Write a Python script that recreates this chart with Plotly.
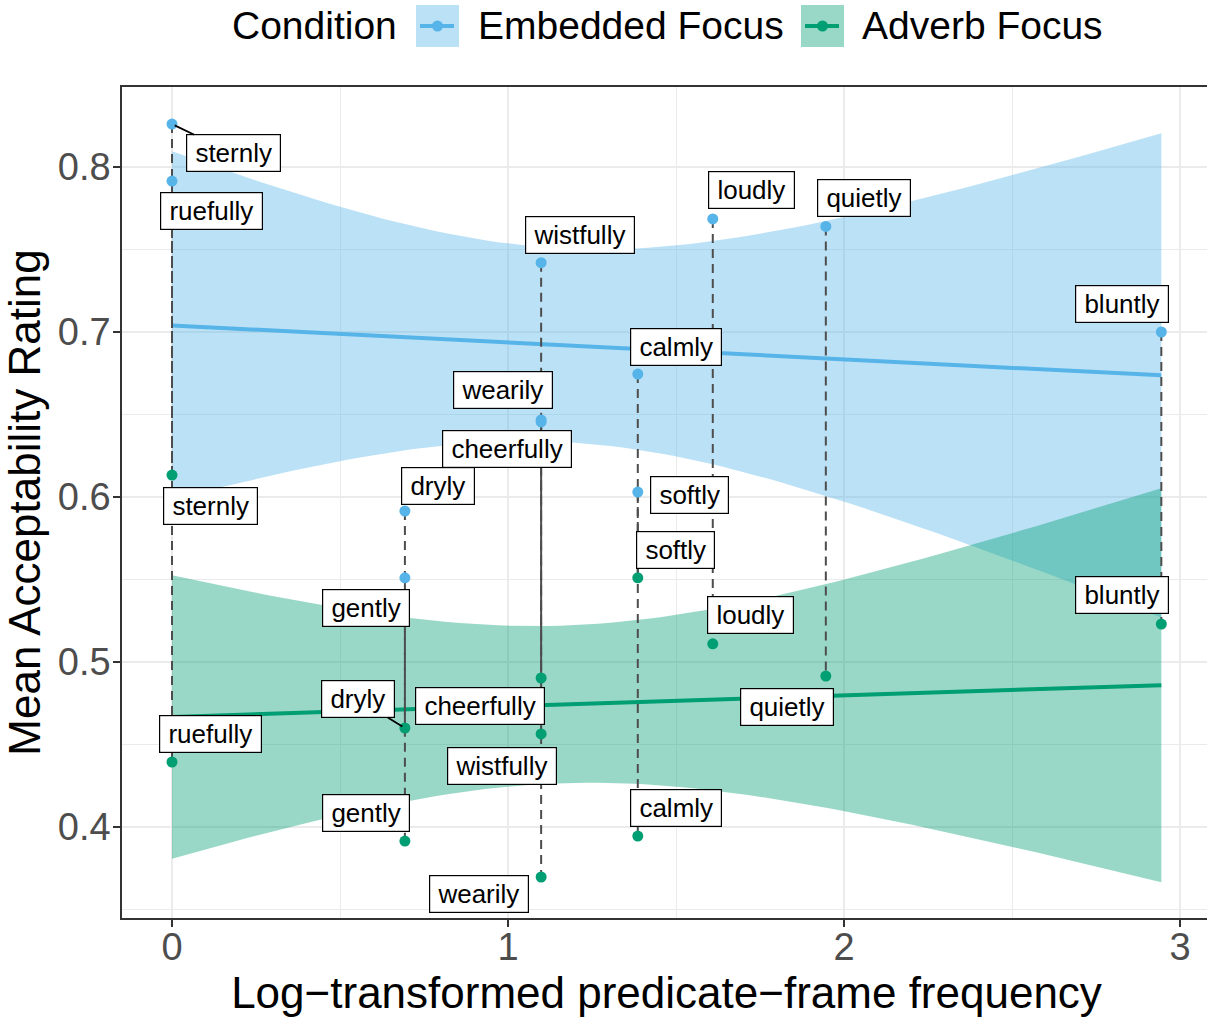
import numpy as np
import plotly.graph_objects as go

# ---- data ----
adverbs = ["sternly", "ruefully", "dryly", "gently", "wistfully", "wearily",
           "cheerfully", "calmly", "softly", "loudly", "quietly", "bluntly"]
frame_freq = [1, 1, 2, 2, 3, 3, 3, 4, 4, 5, 7, 19]
embedded_focus = [0.826, 0.7915, 0.5915, 0.551, 0.742, 0.6467,
                  0.6455, 0.6745, 0.603, 0.7685, 0.764, 0.700]
adverb_focus = [0.6133, 0.4394, 0.460, 0.3915, 0.4564, 0.3697,
                0.4903, 0.3945, 0.551, 0.511, 0.4915, 0.523]
conditions = ["Embedded Focus", "Adverb Focus"]
x_ticks = [0, 1, 2, 3]
y_ticks = [0.4, 0.5, 0.6, 0.7, 0.8]

# ---- styling ----
W, H = 1211, 1019           # panel runs slightly past the right edge of the window
ML, MR, MT, MB = 122, 0, 87, 1019 - 918
X0_PX, PX_PER_UNIT = 172, 336
FONT = "Liberation Sans, Arial, Helvetica, sans-serif"
colors = {"Embedded Focus": "#56B4E9", "Adverb Focus": "#009E73"}
fills = {"Embedded Focus": "rgba(86,180,233,0.4)", "Adverb Focus": "rgba(0,158,115,0.4)"}
legend_fills = {"Embedded Focus": "#BBE1F6", "Adverb Focus": "#99D8C7"}
label_offsets = {
    "Embedded Focus": {"sternly": (61, 29), "ruefully": (39, 30), "dryly": (33, -25),
                       "gently": (-39, 30), "wistfully": (39, -28), "wearily": (-38, -30),
                       "cheerfully": (-34, 27), "calmly": (38, -27), "softly": (52, 3),
                       "loudly": (39, -29), "quietly": (38, -28), "bluntly": (-39, -28)},
    "Adverb Focus": {"sternly": (38, 31), "ruefully": (38, -28), "dryly": (-47, -29),
                     "gently": (-39, -28), "wistfully": (-39, 32), "wearily": (-62, 17),
                     "cheerfully": (-61, 28), "calmly": (38, -28), "softly": (38, -28),
                     "loudly": (38, -29), "quietly": (-39, 31), "bluntly": (-39, -29)},
}
segments = {("Embedded Focus", "sternly"), ("Adverb Focus", "dryly")}


def px(xp):  # page pixel -> paper x
    return (xp - ML) / (W - ML - MR)


def py(yp):  # page pixel -> paper y
    return (H - MB - yp) / (H - MT - MB)


x = np.log(np.array(frame_freq, dtype=float))
series = {"Embedded Focus": np.array(embedded_focus), "Adverb Focus": np.array(adverb_focus)}

fig = go.Figure()

# linear fit with 95% confidence band (as geom_smooth(method="lm"))
T975 = 2.228  # t quantile, df = 10
xs = np.linspace(x.min(), x.max(), 80)
fits = {}
for cond in conditions:
    y = series[cond]
    n = len(x)
    mx = x.mean()
    sxx = ((x - mx) ** 2).sum()
    b = ((x - mx) * (y - y.mean())).sum() / sxx
    a = y.mean() - b * mx
    resid = y - (a + b * x)
    s = np.sqrt((resid ** 2).sum() / (n - 2))
    yhat = a + b * xs
    se = s * np.sqrt(1 / n + (xs - mx) ** 2 / sxx)
    fits[cond] = (yhat, yhat - T975 * se, yhat + T975 * se)

for cond in conditions:
    yhat, lo, hi = fits[cond]
    fig.add_trace(go.Scatter(
        x=np.concatenate([xs, xs[::-1]]), y=np.concatenate([hi, lo[::-1]]),
        fill="toself", fillcolor=fills[cond], line=dict(width=0), mode="lines",
        showlegend=False, hoverinfo="skip"))
for cond in conditions:
    yhat, lo, hi = fits[cond]
    fig.add_trace(go.Scatter(x=xs, y=yhat, mode="lines",
                             line=dict(color=colors[cond], width=4),
                             showlegend=False, hoverinfo="skip"))

# dashed connectors between conditions
cx, cy = [], []
for xi, e, a_ in zip(x, embedded_focus, adverb_focus):
    cx += [xi, xi, None]
    cy += [e, a_, None]
fig.add_trace(go.Scatter(x=cx, y=cy, mode="lines",
                         line=dict(color="#4D4D4D", width=2, dash="9px,6px"),
                         showlegend=False, hoverinfo="skip"))

# points
for cond in conditions:
    fig.add_trace(go.Scatter(x=x, y=series[cond], mode="markers",
                             marker=dict(color=colors[cond], size=11),
                             showlegend=False, text=adverbs))

# labels
for cond in conditions:
    for adv, xi, yi in zip(adverbs, x, series[cond]):
        ax, ay = label_offsets[cond][adv]
        seg = (cond, adv) in segments
        fig.add_annotation(
            x=xi, y=yi, text="\u2009" + adv + "\u2009", showarrow=True, ax=ax, ay=ay,
            arrowhead=0, arrowwidth=1.8 if seg else 0.1,
            arrowcolor="black" if seg else "rgba(0,0,0,0)", standoff=3,
            font=dict(family=FONT, size=26, color="black"),
            bgcolor="white", bordercolor="black", borderwidth=1.2, borderpad=3)

# manual legend (ggplot style keys)
shapes = []
key_left = {"Embedded Focus": 416, "Adverb Focus": 801}
text_left = {"Embedded Focus": 476, "Adverb Focus": 860}
LEG_Y = 26
for cond in conditions:
    kl = key_left[cond]
    shapes.append(dict(type="rect", xref="paper", yref="paper",
                       x0=px(kl), x1=px(kl + 43), y0=py(47), y1=py(5),
                       fillcolor=legend_fills[cond], line=dict(width=0), layer="above"))
    shapes.append(dict(type="line", xref="paper", yref="paper",
                       x0=px(kl + 4), x1=px(kl + 38), y0=py(LEG_Y), y1=py(LEG_Y),
                       line=dict(color=colors[cond], width=4), layer="above"))
    shapes.append(dict(type="circle", xref="paper", yref="paper",
                       x0=px(kl + 16), x1=px(kl + 27), y0=py(LEG_Y + 5.5), y1=py(LEG_Y - 5.5),
                       fillcolor=colors[cond], line=dict(width=0), layer="above"))
    fig.add_annotation(xref="paper", yref="paper", x=px(text_left[cond]), y=py(LEG_Y),
                       xanchor="left", yanchor="middle", text=cond, showarrow=False,
                       font=dict(family=FONT, size=39, color="black"))
fig.add_annotation(xref="paper", yref="paper", x=px(230), y=py(LEG_Y),
                   xanchor="left", yanchor="middle", text="Condition", showarrow=False,
                   font=dict(family=FONT, size=39, color="black"))

x_range = [(ML - X0_PX) / PX_PER_UNIT, (W - MR - X0_PX) / PX_PER_UNIT]

grid = "#EBEBEB"
fig.update_layout(
    width=W, height=H,
    margin=dict(l=ML, r=MR, t=MT, b=MB, autoexpand=False),
    paper_bgcolor="white", plot_bgcolor="white",
    font=dict(family=FONT, color="black"),
    showlegend=False,
    shapes=shapes,
    xaxis=dict(range=x_range, tickvals=x_ticks, ticktext=[str(t) for t in x_ticks],
               automargin=False,
               showgrid=True, gridcolor=grid, gridwidth=2,
               minor=dict(dtick=0.5, showgrid=True, gridcolor=grid, gridwidth=1),
               zeroline=False, showline=True, linecolor="#333333", linewidth=1.5, mirror=True,
               ticks="outside", ticklen=7, tickwidth=1.5, tickcolor="#333333",
               ticklabelstandoff=-12,
               tickfont=dict(size=38, color="#4D4D4D"),
               title=dict(text="Log\u2212transformed predicate\u2212frame frequency",
                          font=dict(size=44), standoff=8)),
    yaxis=dict(range=[0.34485, 0.84848], tickvals=y_ticks, ticktext=[f"{t:.1f}" for t in y_ticks],
               automargin=False,
               showgrid=True, gridcolor=grid, gridwidth=2,
               minor=dict(dtick=0.05, tick0=0.35, showgrid=True, gridcolor=grid, gridwidth=1),
               zeroline=False, showline=True, linecolor="#333333", linewidth=1.5,
               ticks="outside", ticklen=7, tickwidth=1.5, tickcolor="#333333",
               ticklabelstandoff=-5,
               tickfont=dict(size=38, color="#4D4D4D"),
               title=dict(text="Mean Acceptability Rating", font=dict(size=44), standoff=8)),
)

fig.write_html("out.html", config={"displayModeBar": False},
               post_script="document.body.style.margin='0';document.body.style.overflow='hidden';")
